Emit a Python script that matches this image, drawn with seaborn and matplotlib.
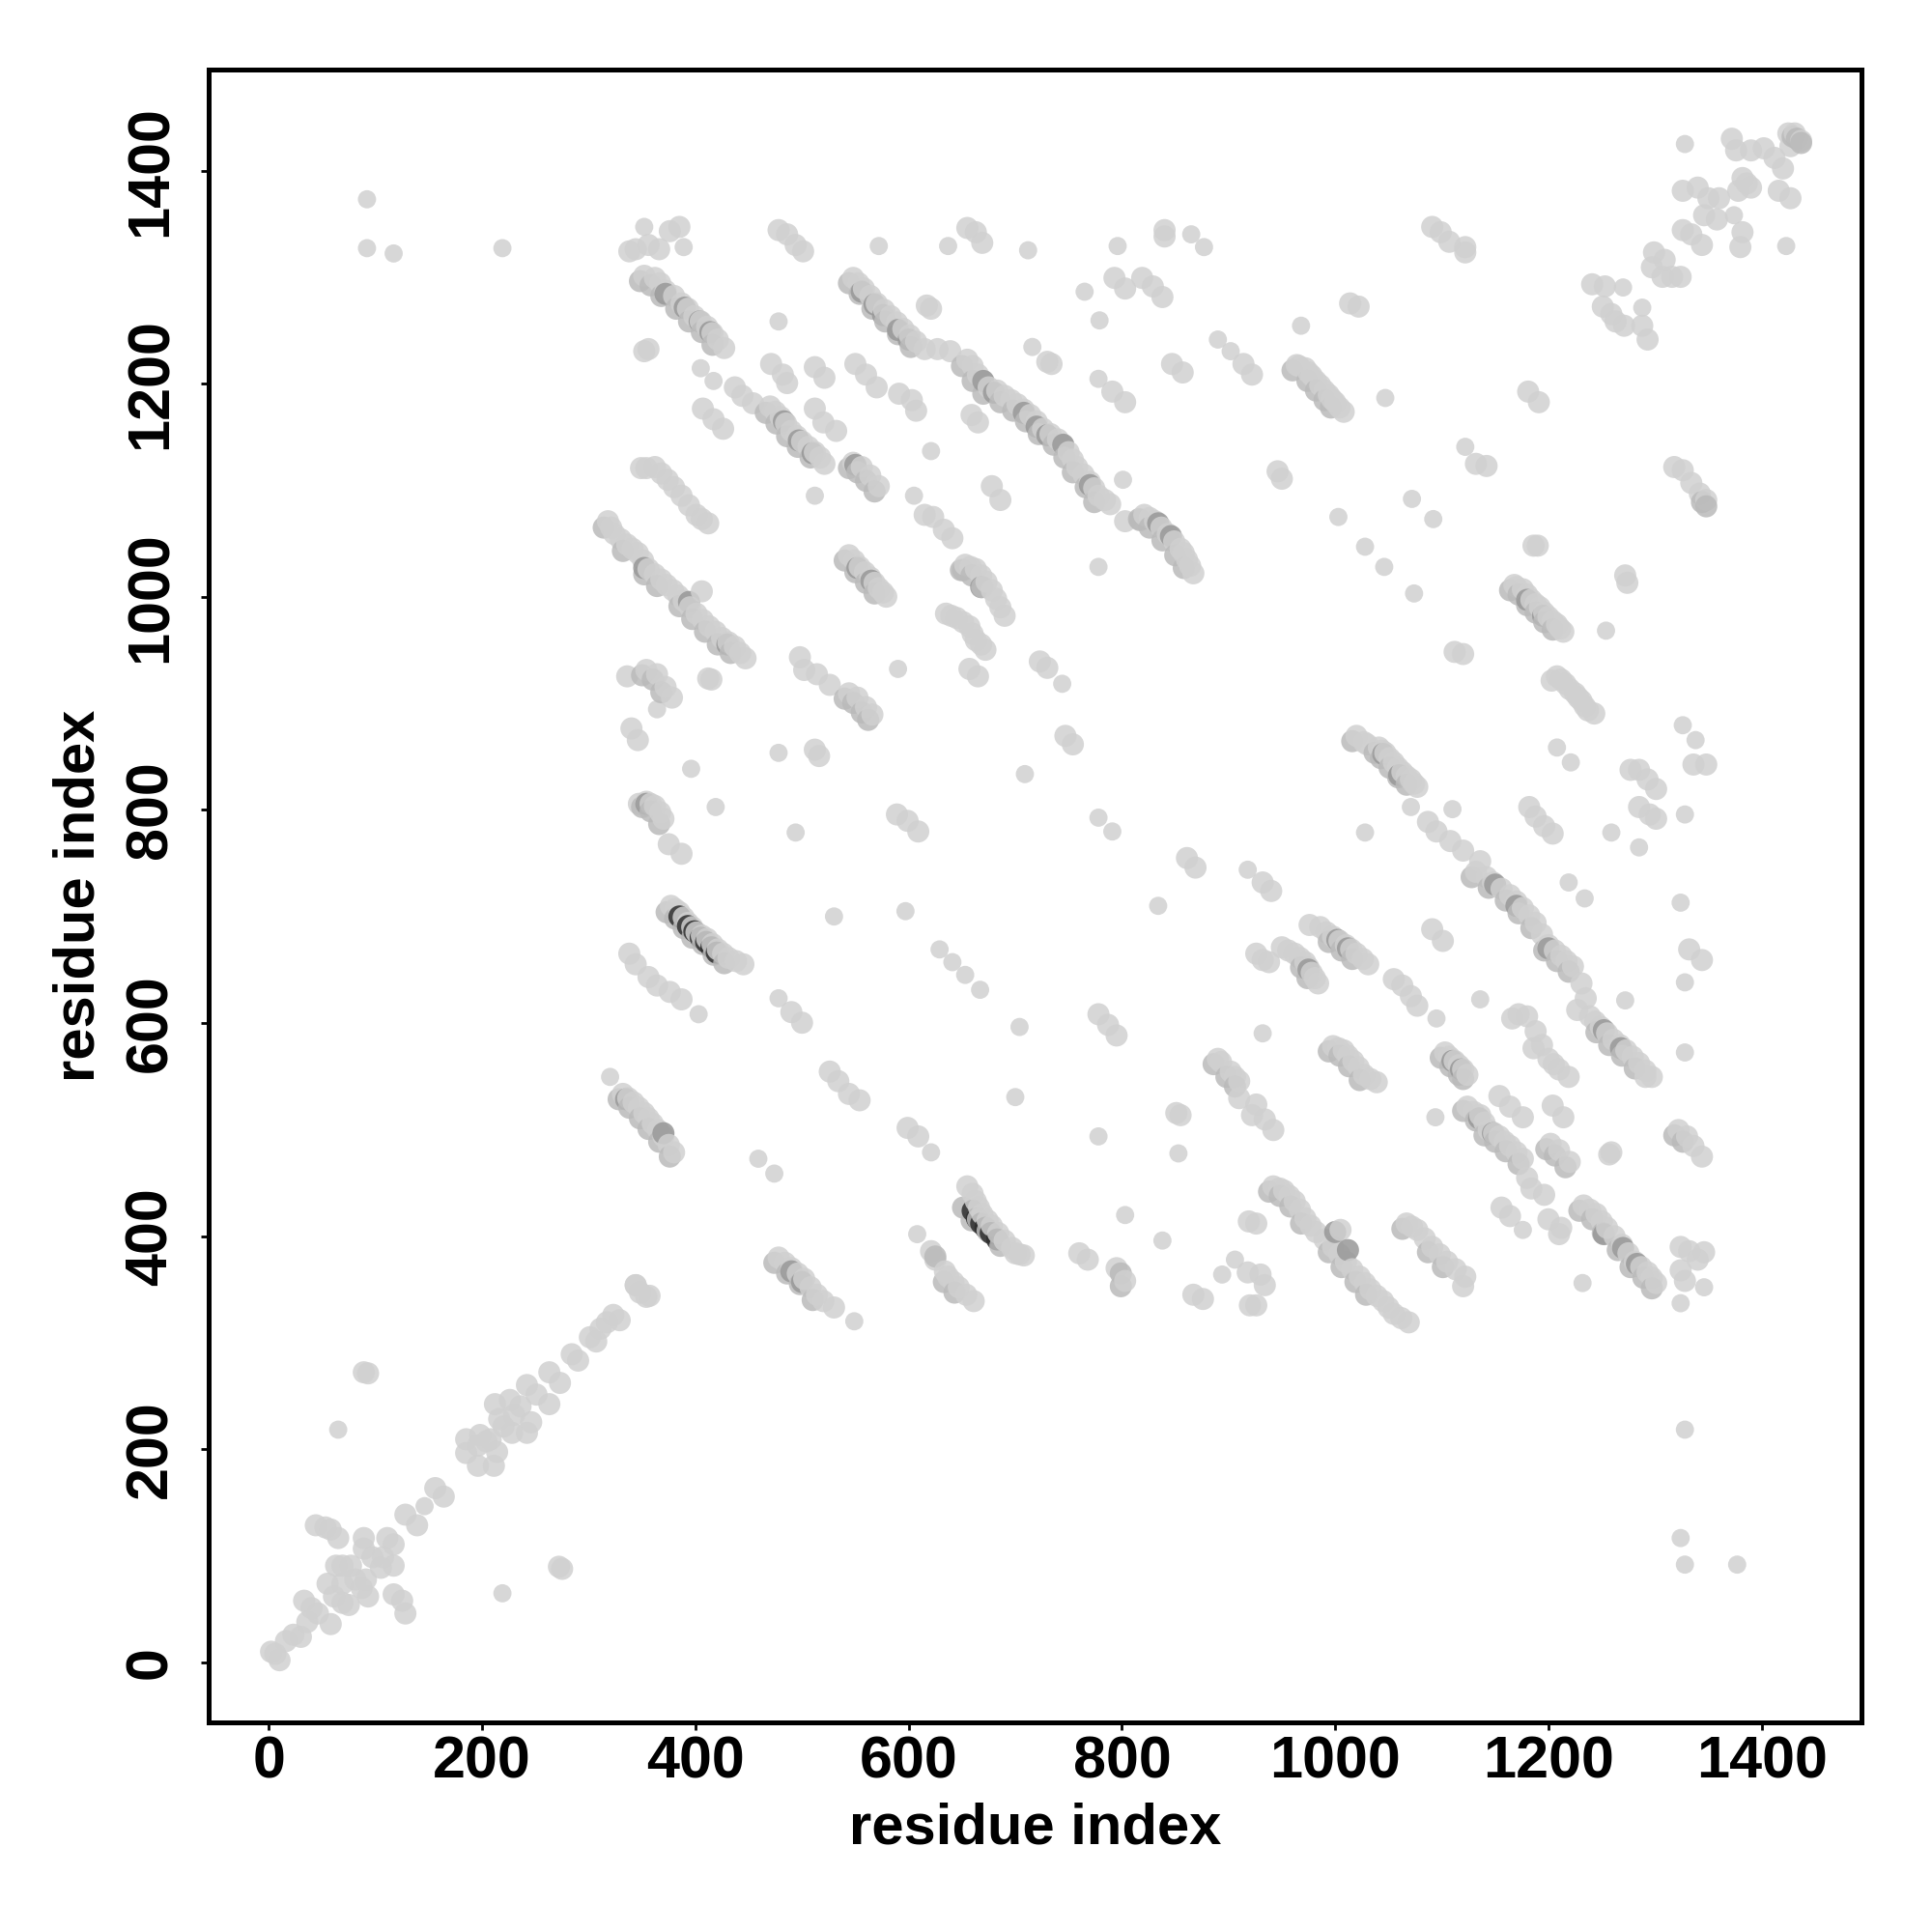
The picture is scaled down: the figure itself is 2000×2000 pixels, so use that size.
import numpy as np
import pandas as pd
import seaborn as sns
import matplotlib.pyplot as plt

# contact pairs (residue i, residue j)
diag_low = [(2,10),(10,2),(6,8),(16,20),(23,26),(30,24),(33,58),(40,51),(36,38),(46,46),(58,36),
    (44,129),(53,127),(58,125),(65,117),(55,74),(63,91),(69,91),(77,91),(61,62),(69,56),(75,54),(69,74),
    (81,78),(93,62),(91,78),(87,70),(89,117),(89,107),(97,99),(111,117),(117,111),(107,99),(117,91),(105,89),
    (117,64),(125,58),(128,46),(128,139),(139,129),(146,147),(156,164),(164,156),
    (89,273),(93,272),(65,219),(272,90),(275,88),(219,65)]
diag_mid = [(185,210),(185,197),(196,185),(211,185),(198,214),(204,208),(214,198),(196,204),(212,243),(216,229),
    (226,247),(230,233),(228,216),(242,216),(246,226),(242,261),(251,252),(263,243),(263,273),(273,263),(236,241),
    (220,222),(208,210),(284,290),(290,284),(301,306),(307,302),(311,314),(317,320),(323,327),(329,322),
    (344,355),(348,348),(357,345)]
top_right = [(1328,1429),(1372,1434),(1376,1423),(1390,1423),(1402,1425),(1412,1416),(1420,1406),(1425,1439),(1431,1439),
    (1437,1432),(1427,1427),(1382,1397),(1390,1388),(1378,1385),(1386,1392),(1416,1385),(1427,1378),(1423,1333),
    (1326,1385),(1340,1388),(1350,1378),(1360,1378),(1346,1362),(1358,1358),(1374,1362),(1382,1346),(1380,1332),
    (1326,1348),(1334,1344),(1344,1334),(1299,1327),(1297,1313),(1309,1320),(1307,1304),(1316,1304),(1324,1304),
    (1241,1297),(1253,1295),(1270,1294),(1251,1276),(1259,1269),(1271,1258),(1263,1262),(1288,1275),(1288,1258),(1293,1245)]
upper_right = [(1091,1351),(1099,1346),(1107,1337),(1122,1332),(1122,1327),(1014,1279),(1022,1276),(968,1258),
    (964,1221),(972,1218),(978,1211),(986,1202),(994,1193),(1000,1186),(1008,1177),(1047,1190),(1181,1196),(1191,1186),
    (1122,1144),(1132,1128),(1142,1126),(946,1121),(950,1114),(1072,1095),(1092,1076),(1003,1078),(1028,1050),(1046,1031),
    (1074,1006),(1186,1051),(1190,1051),(1272,1023),(1274,1016),(1254,971),(1318,1125),(1326,1122),(1334,1110),(1342,1100),(1348,1094),
    (1168,1014),(1176,1010),(1184,1000),(1192,993),(1200,984),(1208,977),(1214,970),(1112,951),(1120,949),
    (1208,928),(1216,921),(1225,912),(1231,905),(1237,896),(1243,893),(1326,882),(1338,868),(1336,845),(1348,845),
    (1208,861),(1221,847),(1277,840),(1285,840),(1293,831),(1301,822),(1285,805),(1295,798),(1301,794),(1328,798),(1259,781),(1285,767),
    (1182,805),(1188,796),(1196,787),(1204,780),(1020,872),(1027,866),(1041,861),(1047,856),(1055,847),(1063,838),(1071,831),(1077,824),
    (1071,805),(1110,803),(1028,781)]
main_right = [(1087,791),(1095,782),(1108,773),(1120,764),(1136,754),(1132,744),(1148,734),(1164,722),(1176,710),(1188,696),(1200,675),
    (1212,665),(1223,655),(1231,639),(1235,625),(1227,614),(1239,608),(1249,598),(1261,586),(1273,576),(1285,564),(1297,551),(1291,551),
    (1219,734),(1234,719),(1324,715),(1332,671),(1344,661),(1328,640),(1272,623),(1328,574)]
lower_right = [(976,694),(986,692),(998,683),(1010,675),(1020,667),(1031,657),(950,673),(962,667),(972,659),(978,649),(984,639),
    (932,661),(926,667),(938,659),(1091,690),(1101,679),(1055,643),(1063,637),(1071,627),(1077,618),(1095,606),(1136,624),
    (1172,610),(1180,608),(1188,594),(1186,578),(1200,568),(1210,558),(1219,551),(932,592),
    (998,580),(1008,576),(1017,566),(1027,553),(1039,546),(1103,574),(1112,566),(1120,558),(1124,553),(1094,513),
    (1154,533),(1164,523),(1176,513),(1204,524),(1214,513),(1124,523),(1136,515),(1144,501),(1154,495),(1164,486),(1176,474),
    (1202,488),(1210,482),(1220,471),(1257,478),(1259,480),(1322,501),(1330,495),(1336,486),(1344,476),
    (1180,456),(1184,446),(1196,440),(1156,428),(1164,420),(1176,407),(1200,417),(1212,409),(1210,403),
    (1233,430),(1245,422),(1255,409),(1269,393),(1281,377),(1293,367),(1301,357),
    (1324,391),(1332,387),(1346,386),(1340,379),(1324,369),(1328,359),(1324,338),(1346,353),(1232,357),(1005,407),
    (942,448),(952,444),(962,434),(972,418),(982,405),(998,391),(1010,377),(1023,363),(1033,351),(1045,340),(1055,328),(1069,320),
    (1067,413),(1077,407),(1091,391),(1105,377),(1122,363),(1120,354),(1328,219),(1324,117),(1328,92),(1377,92),
    (926,525),(934,511),(942,501),(926,413),(930,365),(934,355),(926,336),(940,726),(932,734)]
top_left = [(338,1328),(352,1351),(344,1330),(356,1334),(366,1330),(376,1347),(385,1351),(389,1332),(478,1348),(486,1344),(494,1334),(501,1328),
    (572,1333),(637,1333),(655,1350),(663,1346),(669,1336),(712,1329),(796,1333),(840,1348),(840,1342),(865,1344),(877,1332),(765,1290),(779,1263),
    (793,1303),(803,1293),(819,1303),(829,1295),(838,1285),(92,1377),(92,1331),(117,1326),(219,1331)]
middle_top = [(352,1305),(362,1303),(372,1291),(387,1279),(399,1267),(411,1257),(421,1245),(427,1237),(478,1262),(356,1236),(352,1234),(617,1277),(621,1274),
    (548,1303),(558,1293),(570,1279),(583,1267),(595,1255),(607,1243),(615,1236),(627,1236),(639,1234),
    (655,1226),(665,1212),(675,1200),(690,1192),(702,1184),(714,1174),(726,1161),(740,1151),(750,1139),(758,1125),(770,1111),(778,1098),(789,1090),
    (716,1238),(730,1224),(734,1222),(847,1222),(857,1214),(890,1245),(902,1234),(914,1222),(922,1212),
    (405,1218),(417,1206),(471,1222),(482,1212),(486,1204),(512,1219),(521,1209),(550,1222),(560,1212),(570,1200),(591,1194),(603,1188),(607,1178),
    (778,1208),(791,1196),(803,1186),(437,1200),(444,1192),(454,1185),(407,1180),(417,1170),(426,1161),
    (470,1182),(480,1172),(490,1159),(500,1149),(512,1139),(521,1128),(512,1180),(520,1167),(532,1159),(659,1174),(665,1167),(621,1140),
    (548,1129),(556,1125),(564,1117),(572,1107),(801,1113),(512,1098),(678,1107),(686,1094),
    (354,1124),(362,1125),(374,1113),(387,1098),(401,1080),(412,1072),(605,1098),(623,1078),(633,1066),(641,1058),(615,1080),(803,1074),
    (821,1080),(831,1074),(843,1062),(855,1048),(867,1025),(861,1038),(778,1031)]
middle_low = [(318,1074),(324,1062),(336,1052),(346,1044),(356,1029),(368,1019),(379,1009),(389,999),(401,987),(413,975),(425,964),(437,956),(447,945),(406,1008),
    (544,1042),(554,1031),(564,1021),(572,1011),(579,1003),(653,1033),(663,1029),(673,1017),(682,1001),(690,985),(635,987),(645,983),(657,975),(663,962),(672,953),
    (498,946),(502,934),(514,930),(526,920),(544,912),(552,908),(560,899),(566,892),(590,935),(657,935),(665,928),(723,942),(730,936),(744,921),
    (336,928),(354,934),(364,930),(372,918),(378,908),(364,897),(412,926),(415,925),(340,879),(346,868),(478,856),(512,859),(516,853),(747,872),(754,864),
    (396,841),(709,836),(354,810),(362,806),(370,794),(419,805),(589,798),(599,792),(609,782),(778,795),(791,782),(494,781),(375,770),(387,761),(861,757),(869,748),(918,746)]
bottom_part = [(377,712),(385,706),(393,696),(401,687),(411,681),(421,671),(431,663),(445,657),(338,667),(344,657),(356,645),(364,637),(376,631),(387,624),(403,610),
    (530,702),(597,707),(478,625),(490,612),(500,602),(629,671),(641,659),(653,647),(667,633),(704,598),(778,610),(787,600),(795,590),(834,712),
    (320,551),(332,535),(342,527),(352,517),(360,507),(370,495),(380,480),(526,556),(534,547),(544,535),(554,529),(700,532),(890,568),(902,556),(910,547),(910,531),(922,515),
    (851,517),(855,515),(778,495),(853,479),(599,503),(609,495),(621,480),(459,474),(474,460),(655,448),(663,434),(669,422),(678,411),(690,397),(708,383),(700,385),
    (803,421),(838,397),(919,415),(608,403),(621,387),(625,379),(637,363),(647,353),(661,340),(760,385),(768,379),(795,371),(803,359),(867,346),(876,342),(894,365),
    (906,379),(918,367),(920,336),(478,381),(490,371),(502,361),(514,346),(530,334),(549,321),(344,355),(354,344)]
# pale contacts in between, the streaks are nearly continuous
streak_fill = [(367,1298),(380,1286),(393,1274),(405,1262),(416,1251),(553,1298),(564,1286),(577,1273),(589,1261),(601,1249),(660,1220),(670,1206),(683,1197),(696,1188),
    (708,1179),(720,1168),(733,1156),(745,1145),(754,1132),(764,1118),(774,1105),(784,1094),(475,1177),(485,1166),(495,1154),(506,1144),(517,1134),
    (321,1068),(330,1057),(341,1048),(351,1037),(362,1024),(373,1014),(384,1004),(395,993),(407,981),(419,970),(431,960),(442,950),
    (549,1037),(559,1026),(568,1016),(576,1007),(658,1031),(668,1023),(678,1009),(686,993),(640,985),(651,979),(660,968),(668,958),
    (826,1077),(837,1068),(849,1055),(858,1044),(864,1032),(381,709),(389,701),(397,692),(406,684),(416,676),(426,667),(438,660),
    (660,441),(666,428),(674,416),(684,404),(697,390),(704,384),(634,368),(642,358),(654,346),(484,376),(496,366),(508,353),(520,340),
    (337,531),(347,522),(356,512),(365,501),(375,487),(1170,1012),(1180,1005),(1188,996),(1196,988),(1204,980),(1211,973),
    (966,1220),(975,1214),(982,1206),(990,1197),(997,1189),(1004,1181),(1030,864),(1044,858),(1051,851),(1059,842),(1067,834),(1074,827),
    (1142,739),(1156,728),(1170,716),(1182,703),(1194,685),(1206,670),(1217,660),(1244,603),(1255,592),(1267,581),(1279,570),(1291,557),
    (1239,426),(1250,415),(1262,401),(1275,385),(1287,372),(1297,362),(948,446),(957,439),(967,426),(977,411),(990,398),(1004,384),(1016,370),(1028,357),(1039,345),(1050,334),(1062,324),
    (1072,410),(1084,399),(1098,384),(1113,370),(1130,518),(1140,508),(1149,498),(1159,490),(1170,480),(1107,570),(1116,562),
    (349,1124),(368,1119),(380,1106),(394,1089),(406,1076),(347,808),(358,808),(367,800),(893,565),(906,551),(1203,924),(1212,925),(1220,916),(1228,908),(1234,900),
    (992,687),(1004,679),(1015,671),(1026,662),(956,670),(967,663),(975,654),(981,644),(1003,578),(1012,571),(1022,560),(1033,549),(1166,606),(1194,581),(1205,563)]

# darker contacts, grey > dim > dark
mid_contacts = [(348,1300),(358,1296),(368,1286),(382,1274),(394,1262),(406,1252),(416,1240),(544,1298),(554,1288),(566,1274),(578,1262),(590,1250),(602,1238),
    (650,1220),(660,1206),(670,1194),(686,1186),(698,1178),(710,1168),(722,1156),(736,1146),(746,1134),(754,1120),(766,1106),(774,1092),
    (466,1176),(476,1166),(486,1154),(496,1144),(508,1134),(544,1124),(552,1120),(560,1112),(568,1102),(816,1076),(826,1068),(838,1056),(850,1042),(858,1030),
    (314,1068),(332,1046),(352,1024),(364,1013),(385,994),(397,982),(409,970),(421,958),(433,950),(540,1037),(550,1026),(560,1016),(568,1006),
    (649,1028),(659,1023),(669,1012),(540,907),(548,903),(556,894),(562,887),(350,929),(360,925),(368,913),(886,563),(898,551),(906,542),
    (350,805),(358,801),(366,789),(328,530),(338,522),(348,512),(356,502),(366,490),(376,476),(474,376),(486,366),(498,356),(510,341),
    (1164,1009),(1172,1005),(1180,995),(1188,988),(1196,979),(1204,972),(960,1216),(974,1206),(982,1197),(990,1188),(996,1181),
    (1016,867),(1037,856),(1043,851),(1051,842),(1059,833),(1067,826),(1099,569),(1108,561),(1116,553),(1120,549),(1120,519),(1132,510),(1140,496),(1150,490),(1160,481),(1172,469),
    (1128,739),(1144,729),(1160,717),(1172,705),(1184,691),(1196,670),(1208,660),(1219,650),(1245,593),(1257,581),(1269,571),(1281,559),
    (1229,425),(1241,417),(1251,404),(1265,388),(1277,372),(1289,362),(1297,352),(1429,1436),(1433,1434),(1437,1430),(1344,1092),(1348,1088),
    (994,678),(1006,670),(1016,662),(968,654),(974,644),(938,443),(948,439),(958,429),(968,413),(994,386),(1006,372),(1019,358),(1029,346),(1063,408),(1087,386),(1101,372),
    (994,575),(1004,571),(1013,561),(1023,548),(651,1028),(817,1075),(799,354),(799,366),(1198,483),(1206,477),(1216,466),(1318,496),(1326,490),
    (625,382),(633,358),(643,348),(651,428),(659,416),(665,417),(674,406),(686,392),(373,706),(381,700),(389,691),(397,682),(407,676),(417,666),(427,658)]
dim_contacts = [(372,1288),(390,1275),(404,1262),(414,1252),(556,1290),(568,1278),(576,1268),(590,1254),(600,1245),(670,1206),(680,1195),(708,1176),(720,1163),
    (730,1155),(745,1146),(770,1108),(483,1168),(497,1150),(510,1138),(550,1127),(834,1072),(846,1060),(352,1030),(394,998),(430,958),(552,1030),(565,1018),(668,1012),
    (1110,566),(1118,558),(1135,512),(1148,498),(1252,403),(1270,390),(1283,375),(1150,732),(1170,712),(1200,672),(1252,595),(1268,578),(1180,1000),(1195,985),
    (1045,855),(1060,835),(354,808),(490,368),(500,358),(1002,680),(1012,672),(975,652),(335,530),(370,498),(1000,405),(1012,388)]
dark_contacts = [(385,702),(393,693),(399,688),(405,682),(410,678),(415,673),(420,668),(660,425),(664,418),(668,413),(672,409),(677,404),(683,398)]

COLS = ["residue_i", "residue_j"]
pale = diag_low + diag_mid + top_right + upper_right + main_right + lower_right + top_left + middle_top + middle_low + bottom_part + streak_fill
df = pd.concat([
    pd.DataFrame(pale, columns=COLS).assign(shade="pale"),
    pd.DataFrame(mid_contacts, columns=COLS).assign(shade="grey"),
    pd.DataFrame(dim_contacts, columns=COLS).assign(shade="dim"),
    pd.DataFrame(dark_contacts, columns=COLS).assign(shade="dark"),
])
# readings were taken at 1.10 px per residue, tick spacing is 1.103
df["residue_j"] = df["residue_j"] * 0.9972

# later residues paint over earlier ones, that makes the crescents in the streaks
df = df.sort_values("residue_i", kind="stable").reset_index(drop=True)

# lone contacts are small, anything with a close neighbour reads as a wider blob
xy = df[COLS].to_numpy(dtype=float)
dist = np.sqrt(((xy[:, None, :] - xy[None, :, :]) ** 2).sum(axis=2))
np.fill_diagonal(dist, 1e9)
df["blob"] = np.where(dist.min(axis=1) < 16, "wide", "lone")

sns.set_style("white")
plt.rcParams["font.family"] = ["Liberation Sans", "DejaVu Sans"]

fig = plt.figure(figsize=(10, 10), dpi=200)
ax = fig.add_axes([0.1080, 0.1083, 0.8555, 0.8557])

sns.scatterplot(data=df, x="residue_i", y="residue_j", hue="shade", size="blob",
                palette={"pale": "#d0d0d0", "grey": "#bababa", "dim": "#989898", "dark": "#2e2e2e"},
                sizes={"wide": 68, "lone": 46}, linewidth=0, alpha=0.85, ax=ax, legend=False)

ax.set_xlim(-56.5, 1493.6)
ax.set_ylim(-56.7, 1494.9)
ax.set_xticks(range(0, 1401, 200))
ax.set_yticks(range(0, 1401, 200))
ax.tick_params(axis="both", direction="out", length=3, width=1, color="black", labelcolor="black", bottom=True, left=True)
ax.tick_params(axis="x", pad=1.8)
ax.tick_params(axis="y", pad=8)
for lab in ax.get_xticklabels():
    lab.set_fontsize(22)
    lab.set_fontweight("bold")
for lab in ax.get_yticklabels():
    lab.set_fontsize(22)
    lab.set_fontweight("bold")
    lab.set_rotation(90)
    lab.set_verticalalignment("center")
ax.set_xlabel("residue index", fontsize=21.5, fontweight="bold", color="black", labelpad=4.3)
ax.set_ylabel("residue index", fontsize=21.5, fontweight="bold", color="black", labelpad=6.8)
for sp in ax.spines.values():
    sp.set_visible(True)
    sp.set_linewidth(1.8)
    sp.set_color("black")

fig.savefig("out.png", dpi=200)
